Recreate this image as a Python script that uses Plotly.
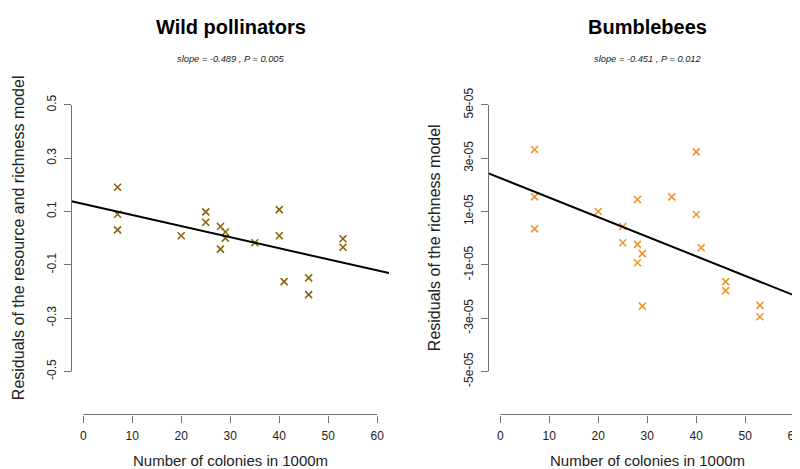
import plotly.graph_objects as go

# ---------------- data ----------------
colonies_wild = [7, 7, 7, 20, 25, 25, 28, 29, 29, 28, 35, 40, 40, 41, 46, 46, 53, 53]
resid_wild = [0.191, 0.090, 0.031, 0.009, 0.099, 0.060, 0.044, 0.023, 0.000, -0.041,
              -0.017, 0.107, 0.009, -0.163, -0.149, -0.212, -0.002, -0.034]

colonies_bb = [7, 7, 7, 20, 25, 25, 28, 28, 28, 29, 29, 35, 40, 40, 41, 46, 46, 53, 53]
resid_bb = [3.33e-5, 1.55e-5, 0.35e-5, 1.00e-5, 0.44e-5, -0.17e-5, 1.45e-5, -0.23e-5,
            -0.92e-5, -0.58e-5, -2.55e-5, 1.55e-5, 3.24e-5, 0.89e-5, -0.36e-5,
            -1.63e-5, -1.97e-5, -2.52e-5, -2.95e-5]

fit_wild = (0.129, -0.00417)       # intercept, slope
fit_bb = (2.257e-5, -0.0734e-5)

x_ticks = [0, 10, 20, 30, 40, 50, 60]
y_ticks_wild = [-0.5, -0.3, -0.1, 0.1, 0.3, 0.5]
y_labels_wild = ["-0.5", "-0.3", "-0.1", "0.1", "0.3", "0.5"]
y_ticks_bb = [-5e-5, -3e-5, -1e-5, 1e-5, 3e-5, 5e-5]
y_labels_bb = ["-5e-05", "-3e-05", "-1e-05", "1e-05", "3e-05", "5e-05"]

titles = ["Wild pollinators", "Bumblebees"]
subtitles = ["slope = -0.489 , P = 0.005", "slope = -0.451 , P = 0.012"]
x_title = "Number of colonies in 1000m"
y_titles = ["Residuals of the resource and richness model", "Residuals of the richness model"]

col_wild = "#8B6508"
col_bb = "#F0952B"

# ---------------- layout geometry ----------------
W, H = 800, 469
FONT = "Liberation Sans, Arial, sans-serif"
AX = "#707070"
TXT = "#222222"

def px(v):
    return v / W

def py(v):
    return 1 - v / H

x_range = [-2.4, 62.4]
yr_wild = [-0.54, 0.54]
yr_bb = [-5.4e-5, 5.4e-5]
dom_y = [py(376.7), py(81.4)]
dom_x1 = [px(63.5), px(381.0)]
dom_x2 = [px(480.5), px(798.0)]
xaxis_pos = py(410)

fig = go.Figure()

for i, (xs, ys, col, fit, yr) in enumerate([
        (colonies_wild, resid_wild, col_wild, fit_wild, yr_wild),
        (colonies_bb, resid_bb, col_bb, fit_bb, yr_bb)]):
    xa = "x" if i == 0 else "x2"
    ya = "y" if i == 0 else "y2"
    fig.add_trace(go.Scatter(
        x=xs, y=ys, mode="markers", xaxis=xa, yaxis=ya,
        marker=dict(symbol="x-thin", size=7, color=col, line=dict(width=1.6, color=col)),
        showlegend=False, hoverinfo="x+y"))
    a, b = fit
    fig.add_trace(go.Scatter(
        x=x_range, y=[a + b * x_range[0], a + b * x_range[1]], mode="lines",
        xaxis=xa, yaxis=ya, line=dict(color="black", width=2),
        showlegend=False, hoverinfo="skip"))

tickfont = dict(family=FONT, size=12, color=TXT)
common_x = dict(range=x_range, tickvals=x_ticks, ticks="outside", ticklen=7,
                tickcolor=AX, tickwidth=1, showline=False, showgrid=False,
                zeroline=False, tickfont=tickfont, anchor="free", position=xaxis_pos,
                ticklabelstandoff=3)
common_y = dict(ticks="outside", ticklen=7, tickcolor=AX, tickwidth=1,
                showline=False, showgrid=False, zeroline=False, tickfont=tickfont,
                tickangle=-90, domain=dom_y, ticklabelstandoff=3)

fig.update_layout(
    width=W, height=H,
    margin=dict(l=0, r=0, t=0, b=0),
    paper_bgcolor="white", plot_bgcolor="white",
    xaxis=dict(domain=dom_x1, **common_x),
    xaxis2=dict(domain=dom_x2, **common_x),
    yaxis=dict(range=yr_wild, tickvals=y_ticks_wild, ticktext=y_labels_wild,
               anchor="x", **common_y),
    yaxis2=dict(range=yr_bb, tickvals=y_ticks_bb, ticktext=y_labels_bb,
                anchor="x2", **common_y),
)

# R-style axis lines spanning first to last tick
for xa, ya, yt in [("x", "y", y_ticks_wild), ("x2", "y2", y_ticks_bb)]:
    fig.add_shape(type="line", xref=xa, yref="paper", x0=x_ticks[0], x1=x_ticks[-1],
                  y0=xaxis_pos, y1=xaxis_pos, line=dict(color=AX, width=1))
    fig.add_shape(type="line", xref=xa + " domain", yref=ya, x0=0, x1=0,
                  y0=yt[0], y1=yt[-1], line=dict(color=AX, width=1))

centers = [px(222.5), px(639.0)]
ytitle_x = [px(10), px(426)]
for i in range(2):
    fig.add_annotation(text="<b>" + titles[i] + "</b>", x=centers[i], y=py(12),
                       xref="paper", yref="paper", showarrow=False,
                       font=dict(family=FONT, size=20, color="black"),
                       xanchor="center", yanchor="middle")
    fig.add_annotation(text="<i>" + subtitles[i] + "</i>", x=centers[i], y=py(45),
                       xref="paper", yref="paper", showarrow=False,
                       font=dict(family=FONT, size=9.3, color=TXT),
                       xanchor="center", yanchor="middle")
    fig.add_annotation(text=x_title, x=centers[i], y=py(457),
                       xref="paper", yref="paper", showarrow=False,
                       font=dict(family=FONT, size=15, color=TXT),
                       xanchor="center", yanchor="middle")
    fig.add_annotation(text=y_titles[i], x=ytitle_x[i], y=py(229),
                       xref="paper", yref="paper", showarrow=False, textangle=-90,
                       font=dict(family=FONT, size=16, color=TXT),
                       xanchor="center", yanchor="middle")

fig.write_html("out.html")
